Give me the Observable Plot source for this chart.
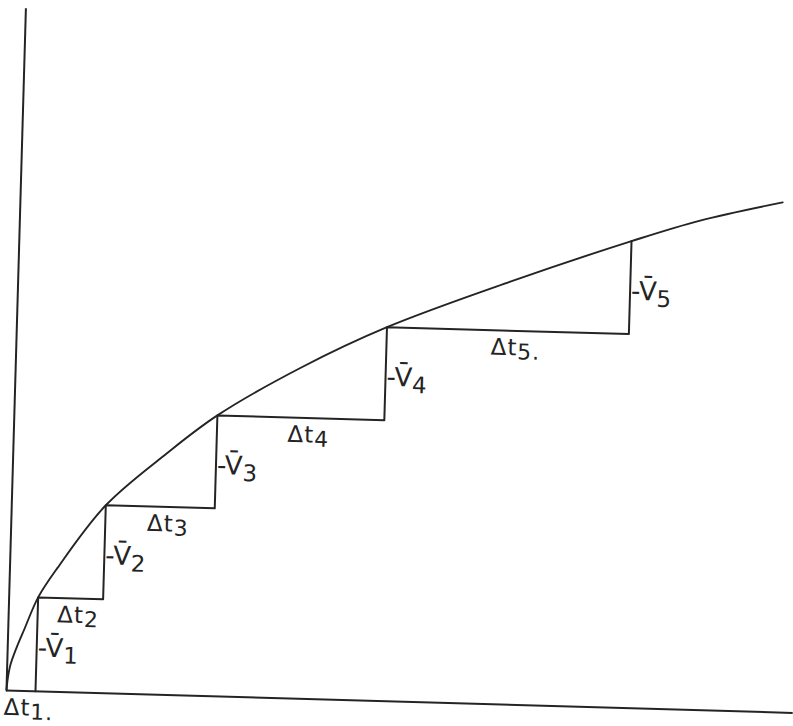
<!DOCTYPE html>
<html>
<head>
<meta charset="utf-8">
<script src="https://cdn.jsdelivr.net/npm/d3@7"></script>
<script src="https://cdn.jsdelivr.net/npm/@observablehq/plot@0.6"></script>
<style>
  html, body { margin: 0; padding: 0; background: #fff; overflow: hidden; }
  #chart svg { display: block; transform: rotate(1.63deg); transform-origin: 6px 690px; }
</style>
</head>
<body>
<div id="chart"></div>
<script>
// Curve (time t vs. cumulative quantity v, drawing units)
const curveT = [0, 0.7, 3.3, 8.8, 16.2, 29, 47.5, 94, 154, 203, 285, 370, 492, 612, 680, 762];
const curveV = [0, 10, 26, 43, 62, 94, 124, 188, 242, 281, 331, 374, 423, 467, 489.5, 510];

// Staircase corners lying on the curve
const stepT = [29, 94, 203, 370, 612];
const stepV = [94, 188, 281, 374, 467];

// Labels: "|" separates the base text from its subscript
const intervalLabels = ["Δt|1.", "Δt|2", "Δt|3", "Δt|4", "Δt|5."];
const velocityLabels = ["-V̄|1", "-V̄|2", "-V̄|3", "-V̄|4", "-V̄|5"];

const curve = curveT.map((t, i) => ({t, v: curveV[i]}));
const stairs = [{t: stepT[0], v: 0}, ...stepT.map((t, i) => ({t, v: stepV[i]}))];
const tLab = intervalLabels.map((label, i) => ({
  label,
  t: ((i ? stepT[i - 1] : 0) + stepT[i]) / 2,
  v: i ? stepV[i - 1] : 0
}));
const vLab = velocityLabels.map((label, i) => {
  const lo = i ? stepV[i - 1] : 0;
  return {label, t: stepT[i], v: lo + 0.46 * (stepV[i] - lo)};
});

const ink = "#242424";
const svg = Plot.plot({
  width: 793,
  height: 726,
  marginLeft: 6,
  marginRight: 0,
  marginTop: 8,
  marginBottom: 36,
  x: {domain: [0, 787], axis: null},
  y: {domain: [0, 682], axis: null},
  style: {background: "white", overflow: "visible"},
  marks: [
    Plot.ruleX([0], {stroke: ink, strokeWidth: 2}),
    Plot.ruleY([0], {stroke: ink, strokeWidth: 2}),
    Plot.line(curve, {x: "t", y: "v", curve: "catmull-rom", stroke: ink, strokeWidth: 1.9}),
    Plot.line(stairs, {x: "t", y: "v", curve: "step-after", stroke: ink, strokeWidth: 2}),
    Plot.text(vLab, {x: "t", y: "v", text: "label", textAnchor: "start", lineAnchor: "middle",
      dx: 1, fontSize: 26, fontFamily: "DejaVu Sans", fill: ink}),
    Plot.text(tLab, {x: "t", y: "v", text: "label", textAnchor: "middle", lineAnchor: "middle",
      dx: 8, dy: 17, fontSize: 23, fontFamily: "DejaVu Sans", fill: ink})
  ]
});

d3.select(svg).selectAll("text").each(function () {
  const s = this.textContent;
  if (!s.includes("|")) return;
  const [base, sub] = s.split("|");
  const isT = base.startsWith("Δ");
  this.textContent = base;
  if (isT) d3.select(this).attr("letter-spacing", "1");
  d3.select(this).append("tspan")
    .attr("dy", isT ? "0.18em" : "0.28em")
    .attr("font-size", isT ? "0.95em" : "0.88em")
    .text(sub);
});

document.getElementById("chart").appendChild(svg);
</script>
</body>
</html>
